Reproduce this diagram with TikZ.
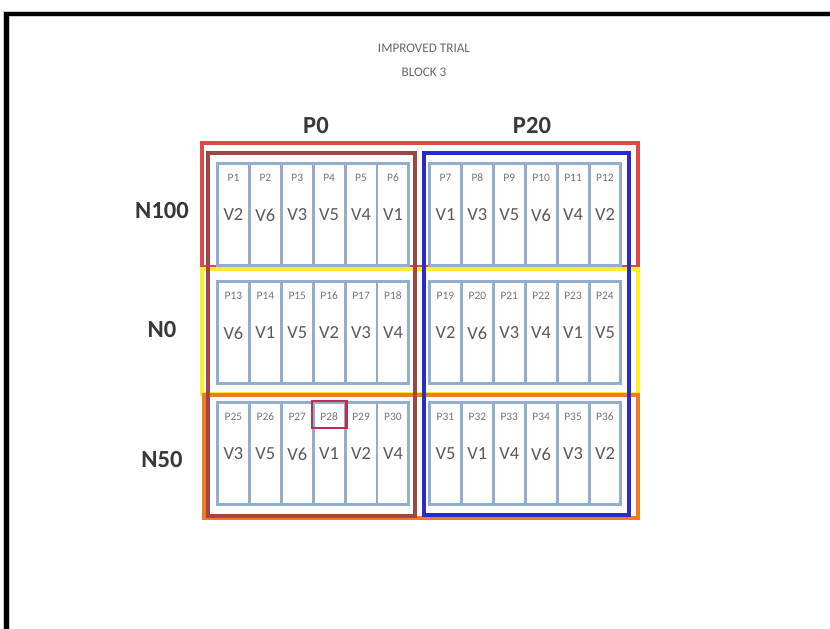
\documentclass[tikz,border=0pt]{standalone}
\usepackage{fontspec}
\setmainfont{Carlito}
\definecolor{plotblue}{RGB}{145,174,206}
\definecolor{rowred}{RGB}{224,72,72}
\definecolor{rowyellow}{RGB}{255,236,50}
\definecolor{roworange}{RGB}{240,122,40}
\definecolor{colbrown}{RGB}{160,68,68}
\definecolor{colblue}{RGB}{42,42,205}
\definecolor{markred}{RGB}{192,45,80}
\tikzset{
  plotbox/.style={draw=plotblue, line width=1.7pt, minimum width=0.638cm,
    minimum height=2.04cm, inner sep=0pt, anchor=north west},
  ptext/.style={text=black!55, font=\fontsize{6.5}{7}\selectfont, inner sep=0pt},
  vtext/.style={text=black!65, font=\fontsize{10.5}{11}\selectfont, inner sep=0pt},
  headtext/.style={text=black!78, font=\fontsize{14}{16}\selectfont\bfseries},
  titletext/.style={text=black!60, font=\fontsize{7.5}{8}\selectfont},
  group/.style={line width=2pt}
}
\begin{document}
\begin{tikzpicture}[x=0.02cm, y=-0.02cm]
  \useasboundingbox (0,0) rectangle (830,628);
  % page frame
  \draw[black!20, line width=3.8pt] (6.5,640) -- (6.5,14) -- (840,14);
  \draw[black, line width=2.3pt] (6.5,640) -- (6.5,14) -- (840,14);

  \node[titletext] (title) at (424,48) {IMPROVED TRIAL};
  \node[titletext] (block) at (424,72) {BLOCK 3};

  \node[headtext] (P0) at (316,126) {P0};
  \node[headtext] (P20) at (532,126) {P20};
  \node[headtext] (N100) at (162,211) {N100};
  \node[headtext] (N0) at (162,330) {N0};
  \node[headtext] (N50) at (162,460) {N50};

  % rows
  \draw[group, rowred] (202,143) rectangle (638,267);
  \draw[group, rowyellow] (202,269) rectangle (638,394);
  \draw[group, roworange] (204,395) rectangle (638,518);
  % columns
  \draw[group, colbrown] (208,153) rectangle (415,516);
  \draw[group, colblue] (424,153) rectangle (629,515);

  % plots
  \foreach \blk/\xl/\yt/\vlist in {0/216/162/{2,6,3,5,4,1}, 1/428/162/{1,3,5,6,4,2},
      2/216/280/{6,1,5,2,3,4}, 3/428/280/{2,6,3,4,1,5},
      4/216/401/{3,5,6,1,2,4}, 5/428/401/{5,1,4,6,3,2}}
    \foreach \v [count=\i] in \vlist {
      \pgfmathtruncatemacro\n{6*\blk+\i}
      \node[plotbox] (p\n) at (\xl+31.9*\i-31.9, \yt) {};
      \node[ptext] (t\n) at ([yshift=-0.31cm]p\n.north) {P\n};
      \node[vtext] (v\n) at ([yshift=-1.06cm]p\n.north) {V\v};
    }

  % marked plot
  \draw[markred, line width=1.3pt] (p28.north west) rectangle ([yshift=-0.54cm]p28.north east);
\end{tikzpicture}
\end{document}
